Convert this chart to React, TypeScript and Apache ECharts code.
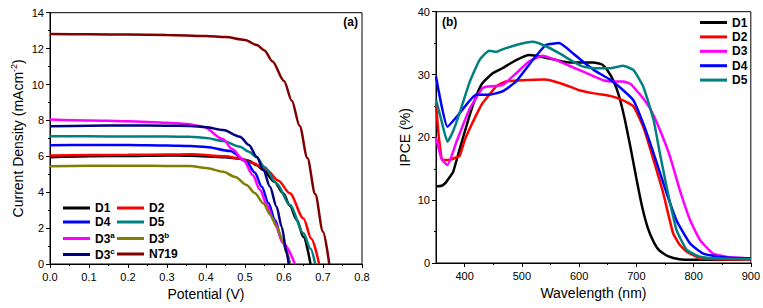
import { useEffect, useRef } from "react";
import * as echarts from "echarts";

// ---------- (a) J-V curves: [voltage V, current density mA/cm2] ----------
const JV_D1: [number, number][] = [
  [0, 5.95], [0.1, 6.0], [0.2, 6.02], [0.3, 6.05], [0.36, 6.03], [0.45, 5.95], [0.487, 5.87],
  [0.51, 5.75], [0.53, 5.5], [0.547, 5.24], [0.575, 4.6], [0.598, 3.94], [0.615, 3.25],
  [0.633, 2.45], [0.65, 1.5], [0.668, 0],
];
const JV_D2: [number, number][] = [
  [0, 6.05], [0.1, 6.07], [0.2, 6.08], [0.3, 6.1], [0.36, 6.11], [0.45, 6.0], [0.487, 5.87],
  [0.52, 5.62], [0.556, 5.24], [0.585, 4.65], [0.615, 3.94], [0.65, 2.54], [0.67, 1.4], [0.69, 0],
];
const JV_D4: [number, number][] = [
  [0, 6.62], [0.1, 6.63], [0.2, 6.63], [0.3, 6.6], [0.36, 6.57], [0.4, 6.52], [0.462, 6.3],
  [0.504, 5.7], [0.525, 5.1], [0.543, 4.31], [0.56, 3.4], [0.577, 2.45], [0.595, 1.3], [0.615, 0],
];
const JV_D5: [number, number][] = [
  [0, 7.12], [0.1, 7.12], [0.2, 7.1], [0.3, 7.1], [0.36, 7.09], [0.4, 7.02], [0.444, 6.85],
  [0.487, 6.53], [0.51, 6.25], [0.53, 5.95], [0.55, 5.4], [0.581, 4.49], [0.615, 3.29],
  [0.65, 1.71], [0.668, 0.85], [0.68, 0],
];
const JV_D3A: [number, number][] = [
  [0, 8.05], [0.1, 8.0], [0.2, 7.95], [0.3, 7.87], [0.35, 7.8], [0.393, 7.65], [0.444, 6.95],
  [0.467, 6.4], [0.496, 5.8], [0.52, 4.95], [0.538, 4.15], [0.556, 3.3], [0.573, 2.45],
  [0.598, 1.15], [0.628, 0],
];
const JV_D3B: [number, number][] = [
  [0, 5.45], [0.1, 5.47], [0.2, 5.48], [0.3, 5.46], [0.36, 5.46], [0.4, 5.35], [0.444, 5.14],
  [0.475, 4.85], [0.504, 4.4], [0.525, 3.95], [0.547, 3.38], [0.565, 2.75], [0.581, 2.08],
  [0.597, 1.3], [0.607, 0.6], [0.615, 0],
];
const JV_D3C: [number, number][] = [
  [0, 7.68], [0.1, 7.7], [0.2, 7.72], [0.3, 7.7], [0.36, 7.69], [0.4, 7.62], [0.444, 7.46],
  [0.487, 7.09], [0.51, 6.63], [0.53, 5.98], [0.547, 5.24], [0.564, 4.31], [0.581, 3.19],
  [0.594, 2.08], [0.607, 0.6], [0.612, 0],
];
const JV_N719: [number, number][] = [
  [0, 12.82], [0.1, 12.8], [0.2, 12.78], [0.3, 12.76], [0.4, 12.7], [0.45, 12.64], [0.5, 12.48],
  [0.53, 12.2], [0.55, 11.9], [0.57, 11.3], [0.6, 10.2], [0.62, 9.1], [0.64, 7.7], [0.66, 5.9],
  [0.68, 3.9], [0.7, 1.8], [0.716, 0],
];

const JV_NAMES = ["D1", "D2", "D4", "D5", "D3a", "D3b", "D3c", "N719"];
const JV_DATA = [JV_D1, JV_D2, JV_D4, JV_D5, JV_D3A, JV_D3B, JV_D3C, JV_N719];
const JV_COLORS = ["#000000", "#ff0000", "#0000ff", "#008080", "#ff00ff", "#808000", "#000080", "#800000"];

const JV_X_TICKS = [0, 0.8, 0.1];
const JV_Y_TICKS = [0, 14, 2];

// ---------- (b) IPCE spectra: [wavelength nm, IPCE %] ----------
const IPCE_D1: [number, number][] = [
  [350, 12.2], [360, 12.3], [367, 12.8], [375, 13.8], [380, 14.5], [391, 18], [408, 23.3],
  [420, 26.5], [431, 28.6], [449, 30.2], [466, 31], [490, 32.3], [513, 33.1], [536, 32.8],
  [560, 32.3], [583, 31.9], [606, 31.9], [625, 31.9], [640, 31.6], [650, 30.6], [660, 29.0],
  [670, 26.5], [680, 22.8], [690, 18.3], [700, 13.5], [710, 9.0], [720, 5.6], [730, 3.4],
  [740, 2.0], [755, 1.1], [775, 0.6], [800, 0.5], [850, 0.5], [900, 0.5],
];
const IPCE_D2: [number, number][] = [
  [350, 25.4], [355, 20], [362, 16.4], [373, 16.4], [385, 16.8], [391, 17], [400, 19.5],
  [408, 21.2], [420, 23.5], [431, 25.4], [445, 27.0], [455, 28.1], [472, 28.9], [501, 29.1],
  [540, 29.2], [571, 28.5], [600, 27.5], [626, 27], [654, 26.6], [677, 25.9], [695, 24.9],
  [712, 21.7], [730, 16.4], [747, 11.1], [764, 4.8], [775, 3.0], [788, 1.8], [811, 0.8],
  [840, 0.6], [900, 0.5],
];
const IPCE_D3: [number, number][] = [
  [350, 20.0], [360, 16.5], [370, 15.6], [385, 19.1], [408, 24.4], [431, 27.8], [440, 28.1],
  [466, 28.3], [490, 30.2], [513, 32.1], [536, 33.0], [560, 32.3], [583, 31.4], [606, 30.5],
  [626, 29.7], [642, 29.1], [660, 28.9], [677, 28.9], [690, 28.5], [700, 27.5], [712, 26.2],
  [724, 24.6], [741, 21.2], [759, 16.9], [776, 11.6], [794, 6.8], [811, 3.7], [834, 1.5],
  [863, 0.9], [900, 0.7],
];
const IPCE_D4: [number, number][] = [
  [350, 29.7], [370, 21.7], [391, 23.8], [420, 26.8], [443, 26.8], [466, 27.3], [490, 28.9],
  [519, 32.3], [542, 34.7], [565, 35.0], [589, 33.4], [606, 32.1], [626, 30.7], [654, 29.2],
  [677, 27.5], [695, 25.9], [712, 22.2], [730, 17.5], [753, 11.1], [770, 6.8], [794, 3.1],
  [817, 1.5], [852, 0.9], [900, 0.7],
];
const IPCE_D5: [number, number][] = [
  [350, 26], [360, 22.5], [370, 19.3], [380, 21], [391, 23.8], [408, 28.6], [426, 32.3],
  [443, 33.8], [455, 33.6], [466, 34.0], [490, 34.7], [519, 35.2], [542, 34.5], [565, 33.4],
  [589, 32.1], [606, 31.3], [626, 31.0], [654, 31.0], [677, 31.4], [695, 30.7], [712, 28.1],
  [730, 22.8], [741, 17.5], [753, 12.1], [770, 5.3], [788, 2.1], [811, 1.0], [850, 0.7],
  [900, 0.6],
];

const IPCE_NAMES = ["D1", "D2", "D3", "D4", "D5"];
const IPCE_DATA = [IPCE_D1, IPCE_D2, IPCE_D3, IPCE_D4, IPCE_D5];
const IPCE_COLORS = ["#000000", "#ff0000", "#ff00ff", "#0000ff", "#008080"];

const IPCE_X_RANGE = [350, 900];
const IPCE_X_MAJOR = [400, 500, 600, 700, 800, 900];
const IPCE_X_MINOR = [450, 550, 650, 750, 850];
const IPCE_Y_TICKS = [0, 40, 10];

const FONT = "'Liberation Sans', Arial, Helvetica, sans-serif";

function legendLabel(name: string): string {
  const m = /^D3([abc])$/.exec(name);
  return m ? `D3{sup|${m[1]}}` : name;
}

export default function App() {
  const ref = useRef<HTMLDivElement>(null);

  useEffect(() => {
    if (!ref.current) return;
    const chart = echarts.init(ref.current, undefined, { renderer: "svg" });

    const axisCommon = {
      axisLine: { show: true, lineStyle: { color: "#000", width: 1 } },
      axisTick: { show: true, length: 4, lineStyle: { color: "#000" } },
      splitLine: { show: false },
      nameLocation: "middle" as const,
      nameTextStyle: { color: "#000", fontSize: 14, fontFamily: FONT },
    };
    const labelCommon = { color: "#000", fontSize: 11, fontFamily: FONT };

    // left legends: 2 columns x 4 rows
    const leftLegendPos = [
      [63, 201], [117, 201],
      [63, 215], [117, 215],
      [63, 231], [117, 231],
      [63, 247], [117, 247],
    ];
    const leftOrder = ["D1", "D2", "D4", "D5", "D3a", "D3b", "D3c", "N719"];
    const legendText = {
      color: "#000",
      fontSize: 12,
      fontWeight: "bold" as const,
      fontFamily: FONT,
      lineHeight: 14,
      rich: {
        sup: { fontSize: 8, fontWeight: "bold" as const, fontFamily: FONT, color: "#000", padding: [0, 0, 7, 0] },
      },
    };
    const legends: any[] = leftOrder.map((n, i) => ({
      data: [n],
      left: leftLegendPos[i][0],
      top: leftLegendPos[i][1],
      padding: 0,
      itemWidth: 27,
      itemHeight: 3,
      icon: "rect",
      selectedMode: false,
      formatter: legendLabel,
      textStyle: legendText,
    }));
    IPCE_NAMES.forEach((n, i) => {
      legends.push({
        data: [{ name: n }],
        left: 700,
        top: 15.5 + i * 14.4,
        padding: 0,
        itemWidth: 27,
        itemHeight: 3,
        icon: "rect",
        selectedMode: false,
        textStyle: legendText,
      });
    });

    const series: any[] = [];
    JV_DATA.forEach((d, i) => {
      series.push({
        type: "line",
        name: JV_NAMES[i],
        xAxisIndex: 0,
        yAxisIndex: 0,
        data: d,
        showSymbol: false,
        symbol: "none",
        smooth: 0.3,
        smoothMonotone: "x",
        lineStyle: { color: JV_COLORS[i], width: 2.5 },
        itemStyle: { color: JV_COLORS[i] },
      });
    });
    IPCE_DATA.forEach((d, i) => {
      series.push({
        type: "line",
        name: IPCE_NAMES[i],
        xAxisIndex: 1,
        yAxisIndex: 1,
        data: d,
        showSymbol: false,
        symbol: "none",
        smooth: 0.15,
        lineStyle: { color: IPCE_COLORS[i], width: 2.5 },
        itemStyle: { color: IPCE_COLORS[i] },
      });
    });

    chart.setOption({
      animation: false,
      backgroundColor: "#fff",
      textStyle: { fontFamily: FONT },
      grid: [
        { left: 50, top: 12.7, width: 312, height: 251.3, show: true, borderColor: "#000", borderWidth: 1, containLabel: false },
        { left: 436, top: 11.7, width: 315, height: 251.3, show: true, borderColor: "#000", borderWidth: 1, containLabel: false },
      ],
      legend: legends,
      xAxis: [
        {
          ...axisCommon,
          type: "value",
          gridIndex: 0,
          min: JV_X_TICKS[0],
          max: JV_X_TICKS[1],
          interval: JV_X_TICKS[2],
          minorTick: { show: true, splitNumber: 2, length: 2, lineStyle: { color: "#000" } },
          minorSplitLine: { show: false },
          axisLabel: { ...labelCommon, margin: 7, formatter: (v: number) => v.toFixed(1) },
          name: "Potential (V)",
          nameGap: 22,
        },
        {
          ...axisCommon,
          type: "value",
          gridIndex: 1,
          min: IPCE_X_RANGE[0],
          max: IPCE_X_RANGE[1],
          axisTick: { show: true, length: 4, lineStyle: { color: "#000" }, customValues: IPCE_X_MAJOR },
          axisLabel: { ...labelCommon, margin: 7, customValues: IPCE_X_MAJOR },
          name: "Wavelength (nm)",
          nameGap: 22,
        },
        {
          type: "value",
          gridIndex: 1,
          position: "bottom",
          min: IPCE_X_RANGE[0],
          max: IPCE_X_RANGE[1],
          axisLine: { show: false },
          axisLabel: { show: false },
          splitLine: { show: false },
          axisTick: { show: true, length: 2, lineStyle: { color: "#000" }, customValues: IPCE_X_MINOR },
        },
      ],
      yAxis: [
        {
          ...axisCommon,
          type: "value",
          gridIndex: 0,
          min: JV_Y_TICKS[0],
          max: JV_Y_TICKS[1],
          interval: JV_Y_TICKS[2],
          minorTick: { show: true, splitNumber: 2, length: 2, lineStyle: { color: "#000" } },
          minorSplitLine: { show: false },
          axisLabel: { ...labelCommon, margin: 6 },
          name: "Current Density (mAcm{sup|-2})",
          nameGap: 24,
          nameTextStyle: {
            color: "#000",
            fontSize: 14,
            fontFamily: FONT,
            rich: { sup: { fontSize: 9, fontFamily: FONT, color: "#000", padding: [0, 0, 8, 0] } },
          },
        },
        {
          ...axisCommon,
          type: "value",
          gridIndex: 1,
          min: IPCE_Y_TICKS[0],
          max: IPCE_Y_TICKS[1],
          interval: IPCE_Y_TICKS[2],
          minorTick: { show: true, splitNumber: 2, length: 2, lineStyle: { color: "#000" } },
          minorSplitLine: { show: false },
          axisLabel: { ...labelCommon, margin: 6 },
          name: "IPCE (%)",
          nameGap: 24,
        },
      ],
      graphic: [
        {
          type: "text",
          right: 405,
          top: 16,
          style: { text: "(a)", fill: "#000", font: `bold 12px ${FONT}` },
        },
        {
          type: "text",
          left: 442,
          top: 16,
          style: { text: "(b)", fill: "#000", font: `bold 12px ${FONT}` },
        },
      ],
      series,
    });

    return () => chart.dispose();
  }, []);

  return (
    <div
      ref={ref}
      style={{ position: "fixed", left: 0, top: 0, width: 763, height: 308, background: "#fff" }}
    />
  );
}
